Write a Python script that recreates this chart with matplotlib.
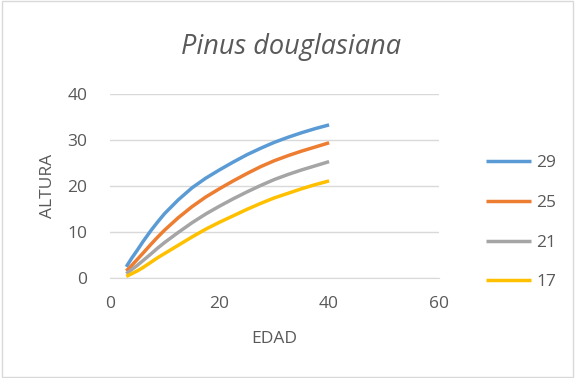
import matplotlib
matplotlib.use("Agg")
import matplotlib.pyplot as plt

# height-age curves by site index
edad = [3, 4, 5, 6, 7.5, 8.75, 10, 12.5, 15, 17.5, 20, 22.5, 25, 27.5, 30, 32.5, 35, 37.5, 40]
altura_29 = [2.4, 4.3, 6.0, 7.8, 10.3, 12.2, 14.0, 17.0, 19.6, 21.7, 23.5, 25.2, 26.8, 28.2,
             29.5, 30.6, 31.6, 32.5, 33.3]
altura_25 = [1.5, 2.7, 4.0, 5.3, 7.3, 8.9, 10.4, 13.1, 15.5, 17.6, 19.4, 21.1, 22.7, 24.2,
             25.5, 26.6, 27.6, 28.5, 29.4]
altura_21 = [0.9, 1.8, 2.7, 3.7, 5.2, 6.5, 7.7, 9.9, 12.0, 13.9, 15.6, 17.2, 18.7, 20.1,
             21.4, 22.5, 23.5, 24.4, 25.3]
altura_17 = [0.3, 0.9, 1.5, 2.2, 3.4, 4.4, 5.3, 7.1, 8.9, 10.6, 12.1, 13.5, 14.9, 16.2,
             17.4, 18.4, 19.4, 20.3, 21.1]
indices = ["29", "25", "21", "17"]
colores = ["#5B9BD5", "#ED7D31", "#A5A5A5", "#FFC000"]

TXT = "#595959"
plt.rcParams["font.family"] = "Open Sans"

fig = plt.figure(figsize=(5.75, 3.78), dpi=100)
fig.patches.append(plt.Rectangle((0.003, 0.003), 0.994, 0.994, transform=fig.transFigure,
                                 fill=False, edgecolor="#D9D9D9", lw=1))
ax = fig.add_axes([0.191, 0.265, 0.572, 0.486])

for serie, nombre, c in zip([altura_29, altura_25, altura_21, altura_17], indices, colores):
    ax.plot(edad, serie, color=c, lw=2.5, label=nombre, solid_capstyle="butt")

ax.set_xlim(0, 60)
ax.set_ylim(0, 40)
ax.set_xticks([0, 20, 40, 60])
ax.set_yticks([0, 10, 20, 30, 40])
ax.grid(axis="y", color="#D9D9D9", lw=1)
ax.set_axisbelow(True)
for s in ["top", "right", "left"]:
    ax.spines[s].set_visible(False)
ax.spines["bottom"].set_color("#D9D9D9")
ax.tick_params(length=0, labelsize=12.5, colors=TXT)
ax.tick_params(axis="x", pad=13)
ax.tick_params(axis="y", pad=16)

# title is centred on the whole chart area, not on the plot
fig.text(0.506, 0.875, "Pinus douglasiana", fontsize=19.5, style="italic",
         color=TXT, ha="center", va="center")
ax.set_xlabel("EDAD", fontsize=12.5, color=TXT, labelpad=14)
ax.set_ylabel("ALTURA", fontsize=12.5, color=TXT, labelpad=8)

ax.legend(loc="center left", bbox_to_anchor=(1.095, 0.30), frameon=False,
          fontsize=12.5, labelcolor=TXT, handlelength=2.6, labelspacing=1.35,
          handletextpad=0.3)

fig.savefig("out.png")
